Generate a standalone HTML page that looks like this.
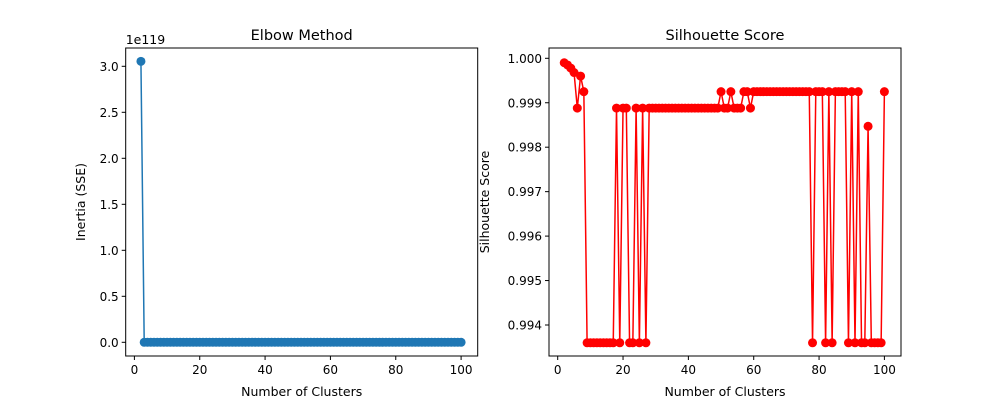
<!DOCTYPE html>
<html><head><meta charset="utf-8"><style>
body{margin:0;background:#fff;}
svg text{font-family:"DejaVu Sans","Liberation Sans",sans-serif;fill:#000;}
</style></head><body>
<svg id="fig" width="1000" height="400" xmlns="http://www.w3.org/2000/svg"></svg>
<script>
const ks = []; for (let k = 2; k <= 100; k++) ks.push(k);
const inertia = [3.054].concat(new Array(98).fill(0));
const L = 0.99360, A = 0.99888, B = 0.99925;
const silhouette = [0.9999,0.99985,0.99978,0.99968,A,0.9996,B,
 L,L,L,L,L,L,L,L,L, A,L,A,A,L,L,A,L,A,L,
 A,A,A,A,A,A,A,A,A,A,A,A,A,A,A,A,A,A,A,A,A,A,
 B,A,A,B,A,A,A,B,B,A,
 B,B,B,B,B,B,B,B,B,B,B,B,B,B,B,B,B,B,
 L,B,B,B,L,B,L,B,B,B,B,L,B,L,B,L,L,0.99847,L,L,L,L,B];
const xTicks = [0,20,40,60,80,100];
const yTicksL = [0.0,0.5,1.0,1.5,2.0,2.5,3.0];
const yTicksR = [0.994,0.995,0.996,0.997,0.998,0.999,1.000];

const svg = document.getElementById('fig');
const NS = 'http://www.w3.org/2000/svg';
function mk(tag, attrs, parent){const e=document.createElementNS(NS,tag);for(const k in attrs)e.setAttribute(k,attrs[k]);(parent||svg).appendChild(e);return e;}

function panel(left, xs, ys, yTicks, yfmt, yScale, color, title, ylabel, pfx){
  const top=48,bottom=356,right=left+352;
  const g=mk('g',{});
  
  
  const X=v=>left+8.7+v*3.267;
  const pts=xs.map((k,i)=>X(k).toFixed(2)+','+yScale(ys[i]).toFixed(2)).join(' ');
  const line=mk('polyline',{points:pts,fill:'none',stroke:color,'stroke-width':1.5},g);
  
  
  xs.forEach((k,i)=>{const c=mk('circle',{cx:X(k),cy:yScale(ys[i]),r:4.5,fill:color},g);
    
    });
  const fr=mk('rect',{x:left,y:top,width:right-left,height:bottom-top,fill:'none',stroke:'#000','stroke-width':1},g);
  
  
  xTicks.forEach(t=>{mk('line',{x1:X(t),x2:X(t),y1:bottom,y2:bottom+4,stroke:'#000'},g);
    const tx=mk('text',{x:X(t),y:bottom+18,'font-size':12,'text-anchor':'middle'},g);tx.textContent=t;
    
    });
  yTicks.forEach(t=>{const y=yScale(t);mk('line',{x1:left-4,x2:left,y1:y,y2:y,stroke:'#000'},g);
    const tx=mk('text',{x:left-7,y:y+4.5,'font-size':12,'text-anchor':'end'},g);tx.textContent=yfmt(t);
    
    });
  const tt=mk('text',{x:(left+right)/2,y:40,'font-size':14.5,'text-anchor':'middle'},g);tt.textContent=title;
  
  
  const xl=mk('text',{x:(left+right)/2,y:396,'font-size':12.5,'text-anchor':'middle'},g);xl.textContent='Number of Clusters';
  
  
  return {g,left,top,bottom};
}
const pL=panel(125.7,ks,inertia,yTicksL,t=>t.toFixed(1),v=>342.3-v*92,'#1f77b4','Elbow Method','Inertia (SSE)','elbow');
const yl=mk('text',{x:0,y:0,'font-size':12.5,'text-anchor':'middle',transform:'translate(85,202) rotate(-90)'},pL.g);yl.textContent='Inertia (SSE)';


const ex=mk('text',{x:125.7,y:44,'font-size':12.5},pL.g);ex.textContent='1e119';


const pR=panel(549,ks,silhouette,yTicksR,t=>t.toFixed(3),v=>58.3+(1.0-v)*44450,'#ff0000','Silhouette Score','Silhouette Score','silhouette');
const yr=mk('text',{x:0,y:0,'font-size':12.5,'text-anchor':'middle',transform:'translate(489,202) rotate(-90)'},pR.g);yr.textContent='Silhouette Score';


</script>
</body></html>
